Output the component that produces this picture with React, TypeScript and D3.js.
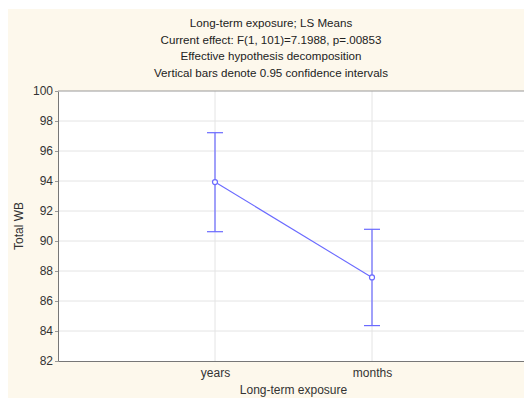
import React, { useEffect, useRef } from 'react';
import * as d3 from 'd3';

// chart values
const categories = ['years', 'months'];
const means = [93.93, 87.57];
const lowerCI = [90.62, 84.36];
const upperCI = [97.22, 90.78];
const yTicks = [82, 84, 86, 88, 90, 92, 94, 96, 98, 100];
const titleLines = [
  'Long-term exposure; LS Means',
  'Current effect: F(1, 101)=7.1988, p=.00853',
  'Effective hypothesis decomposition',
  'Vertical bars denote 0.95 confidence intervals',
];

const App = () => {
  const svgRef = useRef<SVGSVGElement>(null);

  useEffect(() => {
    const svg = d3.select(svgRef.current);
    svg.selectAll('*').remove();

    const width = 524;
    const height = 398;
    const marginTop = 91;
    const marginLeft = 58;
    const plotRight = 529;
    const plotBottom = 361;
    const font = 'Liberation Sans, Arial, sans-serif';
    const blue = '#6a6aff';

    // cream page background
    svg.append('rect')
      .attr('x', 8).attr('y', 9)
      .attr('width', width - 8).attr('height', height - 9)
      .attr('fill', '#fdf8ec');

    const x = d3.scalePoint(categories, [marginLeft, plotRight]).padding(1);
    const y = d3.scaleLinear([82, 100], [plotBottom, marginTop]);

    // plot area
    svg.append('rect')
      .attr('x', marginLeft).attr('y', marginTop)
      .attr('width', plotRight - marginLeft).attr('height', plotBottom - marginTop)
      .attr('fill', '#fff');

    // grid lines
    svg.append('g')
      .selectAll('line')
      .data(yTicks.filter(t => t !== 82 && t !== 100))
      .join('line')
      .attr('x1', marginLeft).attr('x2', plotRight)
      .attr('y1', d => y(d)).attr('y2', d => y(d))
      .attr('stroke', '#e4e4e4');

    svg.append('g')
      .selectAll('line')
      .data(categories)
      .join('line')
      .attr('x1', d => x(d)!).attr('x2', d => x(d)!)
      .attr('y1', marginTop).attr('y2', plotBottom)
      .attr('stroke', '#e4e4e4');

    // y axis
    svg.append('g')
      .attr('transform', `translate(${marginLeft},0)`)
      .call(d3.axisLeft(y).tickValues(yTicks).tickSize(3).tickSizeOuter(0).tickFormat(d3.format('d')))
      .call(g => g.select('.domain').attr('stroke', '#777'))
      .call(g => g.selectAll('.tick line').attr('stroke', '#999'))
      .call(g => g.selectAll('.tick text')
        .attr('font-family', font).attr('font-size', 12).attr('fill', '#333').attr('x', -5));

    // x axis
    svg.append('g')
      .attr('transform', `translate(0,${plotBottom})`)
      .call(d3.axisBottom(x).tickSize(0).tickSizeOuter(0))
      .call(g => g.select('.domain').attr('stroke', '#777'))
      .call(g => g.selectAll('.tick text')
        .attr('font-family', font).attr('font-size', 12).attr('fill', '#333').attr('dy', '1.1em'));

    // top border
    svg.append('line')
      .attr('x1', marginLeft).attr('x2', plotRight)
      .attr('y1', marginTop).attr('y2', marginTop)
      .attr('stroke', '#999');

    // titles
    svg.append('g')
      .selectAll('text')
      .data(titleLines)
      .join('text')
      .attr('x', 271)
      .attr('y', (d, i) => 27 + i * 16.5)
      .attr('text-anchor', 'middle')
      .attr('font-family', font).attr('font-size', 11.6).attr('fill', '#222')
      .text(d => d);

    svg.append('text')
      .attr('transform', `translate(23,${(marginTop + plotBottom) / 2}) rotate(-90)`)
      .attr('text-anchor', 'middle')
      .attr('font-family', font).attr('font-size', 12).attr('fill', '#333')
      .text('Total WB');

    svg.append('text')
      .attr('x', (x('years')! + x('months')!) / 2)
      .attr('y', 394)
      .attr('text-anchor', 'middle')
      .attr('font-family', font).attr('font-size', 12).attr('fill', '#333')
      .text('Long-term exposure');

    // mean line
    const line = d3.line<string>()
      .x(d => x(d)!)
      .y((d, i) => y(means[i]));
    svg.append('path')
      .attr('fill', 'none')
      .attr('stroke', blue)
      .attr('stroke-width', 1.1)
      .attr('d', line(categories));

    // error bars
    const bars = svg.append('g').attr('stroke', blue).attr('stroke-width', 1.2);
    categories.forEach((c, i) => {
      const cx = x(c)!;
      bars.append('line').attr('x1', cx).attr('x2', cx).attr('y1', y(lowerCI[i])).attr('y2', y(upperCI[i]));
      bars.append('line').attr('x1', cx - 8).attr('x2', cx + 8).attr('y1', y(lowerCI[i])).attr('y2', y(lowerCI[i]));
      bars.append('line').attr('x1', cx - 8).attr('x2', cx + 8).attr('y1', y(upperCI[i])).attr('y2', y(upperCI[i]));
    });

    svg.append('g')
      .selectAll('circle')
      .data(categories)
      .join('circle')
      .attr('cx', d => x(d)!)
      .attr('cy', (d, i) => y(means[i]))
      .attr('r', 2.5)
      .attr('fill', '#fff')
      .attr('stroke', blue)
      .attr('stroke-width', 1.2);
  }, []);

  return (
    <svg
      ref={svgRef}
      width={524}
      height={398}
      style={{ position: 'absolute', left: 0, top: 0, display: 'block' }}
    />
  );
};

export default App;
